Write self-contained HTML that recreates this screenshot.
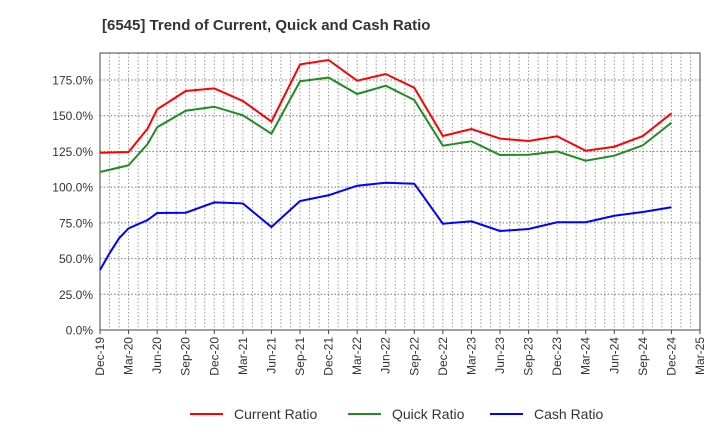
<!DOCTYPE html>
<html><head><meta charset="utf-8"><style>
body{margin:0;background:#fff;font-family:"Liberation Sans",sans-serif}
</style></head><body>
<svg id="chart" width="720" height="440" xmlns="http://www.w3.org/2000/svg">
<text x="102" y="30" font-size="15" font-weight="bold" fill="#333">[6545]  Trend of Current, Quick and Cash Ratio</text>
<g id="grid"></g><g id="axes"></g><g id="series"></g><g id="legend"></g>
</svg>
<script>
const tickLabelsX=["Dec-19","Mar-20","Jun-20","Sep-20","Dec-20","Mar-21","Jun-21","Sep-21","Dec-21","Mar-22","Jun-22","Sep-22","Dec-22","Mar-23","Jun-23","Sep-23","Dec-23","Mar-24","Jun-24","Sep-24","Dec-24","Mar-25"];
const tickValuesY=[0,25,50,75,100,125,150,175];
const monthsMain=[0,3,5,6,9,12,15,18,21,24,27,30,33,36,39,42,45,48,51,54,57,60];
const currentRatio=[124.1,124.6,141,154.5,167.3,169.1,160.3,145.9,185.9,189,174.5,179.2,169.6,135.8,140.7,134,132.3,135.6,125.5,128.3,135.8,151.7];
const quickRatio=[110.6,115.3,130.2,141.9,153.5,156.3,150.3,137.4,174.1,176.7,165.2,171,161,129,132.1,122.5,122.7,125,118.5,122,129.3,145.1];
const monthsCash=[0,1,2,3,5,6,9,12,15,18,21,24,27,30,33,36,39,42,45,48,51,54,57,60];
const cashRatio=[42,53.7,64.2,71.2,77,81.9,82.1,89.3,88.6,72.1,90.3,94.3,101,103.1,102.4,74.4,76.1,69.3,70.7,75.4,75.4,80,82.6,85.9];
const X0=100,X1=700,Y0=330,Y1=53,MMAX=63,VMAX=193.9;
const sx=m=>X0+m*(X1-X0)/MMAX;
const sy=v=>Y0-v*(Y0-Y1)/VMAX;
const NS="http://www.w3.org/2000/svg";
function mk(tag,attrs,parent){const e=document.createElementNS(NS,tag);for(const k in attrs)e.setAttribute(k,attrs[k]);parent.appendChild(e);return e;}
const grid=document.getElementById('grid'),axes=document.getElementById('axes'),series=document.getElementById('series'),legend=document.getElementById('legend');
for(let m=1;m<MMAX;m++){const l=mk('line',{x1:sx(m),x2:sx(m),y1:Y1,y2:Y0,stroke:'#999','stroke-dasharray':'1.5,2','stroke-width':1},grid);

}
tickValuesY.forEach(v=>{if(v>0){const l=mk('line',{x1:X0,x2:X1,y1:sy(v),y2:sy(v),stroke:'#777','stroke-dasharray':'1.5,2','stroke-width':1},grid);

}
const t=mk('text',{x:X0-7,y:sy(v)+4.5,'text-anchor':'end','font-size':12,fill:'#333'},axes);t.textContent=v.toFixed(1)+'%';

});
const fr=mk('rect',{x:X0,y:Y1,width:X1-X0,height:Y0-Y1,fill:'none',stroke:'#444','stroke-width':1},axes);


tickLabelsX.forEach((s,i)=>{const x=sx(i*3);
const tk=mk('line',{x1:x,x2:x,y1:Y0,y2:Y0+4,stroke:'#444'},axes);


const t=mk('text',{x:x+4,y:Y0+7,'text-anchor':'end','font-size':12,fill:'#333',transform:`rotate(-90 ${x+4} ${Y0+7})`},axes);t.textContent=s;

});
function line(ms,vals,color,name){const p=mk('polyline',{points:ms.map((m,i)=>sx(m)+','+sy(vals[i])).join(' '),fill:'none',stroke:color,'stroke-width':2},series);

}
line(monthsMain,quickRatio,'#228B22','quick-ratio-line');
line(monthsMain,currentRatio,'#FF0000','current-ratio-line');
line(monthsCash,cashRatio,'#0000FF','cash-ratio-line');
[['Current Ratio','#FF0000',190],['Quick Ratio','#228B22',348],['Cash Ratio','#0000FF',490]].forEach(([n,c,x])=>{
const g=mk('g',{},legend);


mk('line',{x1:x,x2:x+33,y1:414,y2:414,stroke:c,'stroke-width':2},g);
const t=mk('text',{x:x+44,y:419,'font-size':14,fill:'#333'},g);t.textContent=n;});
</script>
</body></html>
